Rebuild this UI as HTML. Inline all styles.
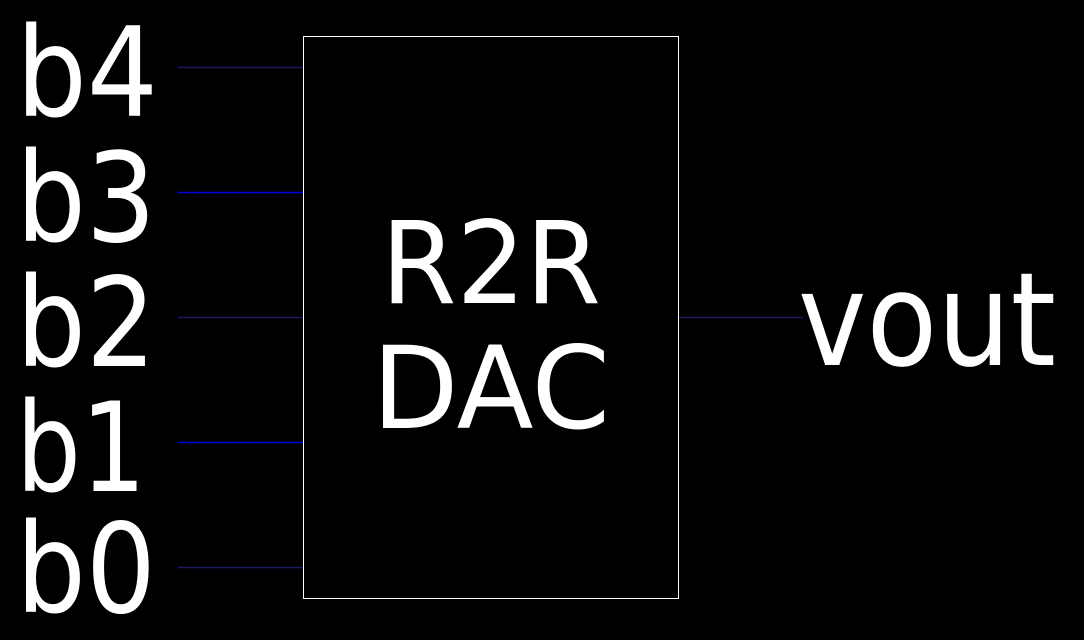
<!DOCTYPE html>
<html><head><meta charset="utf-8"><style>
html,body{margin:0;padding:0;background:#000;width:1084px;height:640px;overflow:hidden}
text{font-family:"DejaVu Sans","Liberation Sans",sans-serif;fill:#fff}
</style></head><body>
<svg width="1084" height="640" viewBox="0 0 1084 640">
<rect x="0" y="0" width="1084" height="640" fill="#000"/>
<line x1="178" y1="67.5" x2="303" y2="67.5" stroke="#1a1a60" stroke-width="1.5"/>
<line x1="178" y1="192.5" x2="303" y2="192.5" stroke="#0000e0" stroke-width="1.5"/>
<line x1="178" y1="317.5" x2="303" y2="317.5" stroke="#1a1a60" stroke-width="1.5"/>
<line x1="178" y1="442.5" x2="303" y2="442.5" stroke="#0000e0" stroke-width="1.5"/>
<line x1="178" y1="567.5" x2="303" y2="567.5" stroke="#1a1a60" stroke-width="1.5"/>
<line x1="678" y1="317.5" x2="803" y2="317.5" stroke="#1a1a60" stroke-width="1.5"/>
<rect x="303.5" y="36.5" width="375" height="562" fill="none" stroke="#fff" stroke-width="1"/>
<text x="16" y="116" font-size="124" textLength="142" lengthAdjust="spacingAndGlyphs">b4</text>
<text x="16" y="241" font-size="124" textLength="140" lengthAdjust="spacingAndGlyphs">b3</text>
<text x="16" y="366" font-size="124" textLength="140" lengthAdjust="spacingAndGlyphs">b2</text>
<text x="16" y="491" font-size="124" textLength="130" lengthAdjust="spacingAndGlyphs">b1</text>
<text x="16" y="612" font-size="124" textLength="140" lengthAdjust="spacingAndGlyphs">b0</text>
<text x="491" y="303" font-size="114" text-anchor="middle" textLength="220" lengthAdjust="spacingAndGlyphs">R2R</text>
<text x="491" y="428" font-size="114" text-anchor="middle" textLength="238" lengthAdjust="spacingAndGlyphs">DAC</text>
<text x="798" y="365" font-size="130" textLength="258" lengthAdjust="spacingAndGlyphs">vout</text>
</svg>
</body></html>
